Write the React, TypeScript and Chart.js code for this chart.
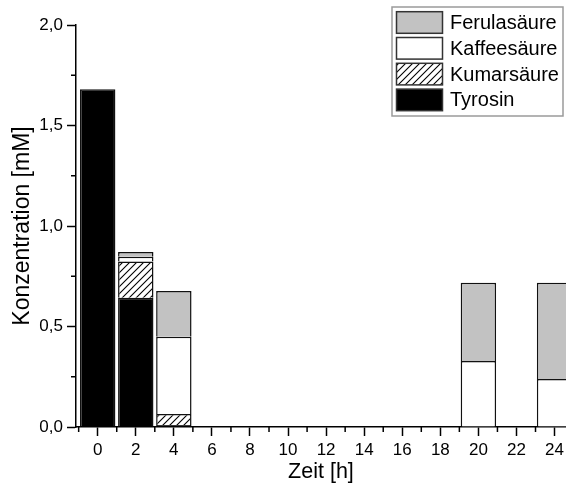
import { useEffect, useRef } from 'react';
import { Chart, registerables } from 'chart.js';

Chart.register(...registerables);

const hours = [0, 2, 4, 20, 24];
const tyrosin = [1.68, 0.643, 0.01, null, null];
const kumarsaeure = [null, 0.181, 0.055, null, null];
const kaffeesaeure = [null, 0.023, 0.384, 0.328, 0.239];
const ferulasaeure = [null, 0.024, 0.228, 0.39, 0.479];
const seriesNames = ['Tyrosin', 'Kumarsäure', 'Kaffeesäure', 'Ferulasäure'];
const xTickValues = [0, 2, 4, 6, 8, 10, 12, 14, 16, 18, 20, 22, 24];
const yTickValues = [0, 0.5, 1, 1.5, 2];
const xMinorTicks = [-1, 1, 3, 5, 7, 9, 11, 13, 15, 17, 19, 21, 23, 25];
const yMinorTicks = [0.25, 0.75, 1.25, 1.75];
const xTitle = 'Zeit [h]';
const yTitle = 'Konzentration [mM]';

const FONT = "Arial, 'Liberation Sans', Helvetica, sans-serif";

function makeHatch(): CanvasPattern | string {
  const s = 7;
  const c = document.createElement('canvas');
  c.width = s;
  c.height = s;
  const g = c.getContext('2d');
  if (!g) return '#fff';
  g.fillStyle = '#fff';
  g.fillRect(0, 0, s, s);
  g.strokeStyle = '#000';
  g.lineWidth = 1.1;
  g.beginPath();
  g.moveTo(0, s);
  g.lineTo(s, 0);
  g.moveTo(-2, 2);
  g.lineTo(2, -2);
  g.moveTo(s - 2, s + 2);
  g.lineTo(s + 2, s - 2);
  g.stroke();
  return g.createPattern(c, 'repeat') || '#fff';
}

function toPoints(vals: (number | null)[]) {
  return hours.map((h, i) => ({ x: h, y: vals[i] }));
}

const decorPlugin = {
  id: 'decor',
  afterDraw(chart: any) {
    const ctx: CanvasRenderingContext2D = chart.ctx;
    const xs = chart.scales.x;
    const ys = chart.scales.y;
    const area = chart.chartArea;
    ctx.save();
    ctx.strokeStyle = '#000';
    ctx.lineWidth = 1.5;
    ctx.beginPath();
    xMinorTicks.forEach((v) => {
      const p = xs.getPixelForValue(v);
      if (p >= area.left && p <= area.right) {
        ctx.moveTo(p, area.bottom);
        ctx.lineTo(p, area.bottom + 5);
      }
    });
    yMinorTicks.forEach((v) => {
      const p = ys.getPixelForValue(v);
      ctx.moveTo(area.left, p);
      ctx.lineTo(area.left - 5, p);
    });
    ctx.stroke();

    // legend
    const bx = 392, by = 7, bw = 171, bh = 109;
    ctx.fillStyle = '#fff';
    ctx.fillRect(bx, by, bw, bh);
    ctx.strokeStyle = '#9a9a9a';
    ctx.lineWidth = 1.5;
    ctx.strokeRect(bx, by, bw, bh);
    const items = [...chart.data.datasets].reverse();
    ctx.font = `20px ${FONT}`;
    ctx.textBaseline = 'middle';
    ctx.textAlign = 'left';
    items.forEach((ds: any, i: number) => {
      const sy = by + 4.7 + i * 25.8;
      const sx = bx + 4.5;
      const sw = 46, sh = 21.6;
      ctx.fillStyle = ds.backgroundColor;
      ctx.fillRect(sx, sy, sw, sh);
      ctx.strokeStyle = '#333';
      ctx.lineWidth = 1.5;
      ctx.strokeRect(sx, sy, sw, sh);
      ctx.fillStyle = '#000';
      ctx.fillText(ds.label, sx + sw + 7.5, sy + sh / 2 + 1);
    });
    ctx.restore();
  },
};

export default function App() {
  const ref = useRef<HTMLCanvasElement>(null);
  useEffect(() => {
    if (!ref.current) return;
    const hatch = makeHatch();
    const common = {
      borderColor: '#111',
      borderWidth: 1.5,
      borderSkipped: 'start',
      barPercentage: 0.93,
      categoryPercentage: 1,
    };
    const chart = new Chart(ref.current, {
      type: 'bar',
      data: {
        datasets: [
          { label: seriesNames[0], data: toPoints(tyrosin), backgroundColor: '#000', ...common },
          { label: seriesNames[1], data: toPoints(kumarsaeure), backgroundColor: hatch as any, ...common },
          { label: seriesNames[2], data: toPoints(kaffeesaeure), backgroundColor: '#fff', ...common },
          { label: seriesNames[3], data: toPoints(ferulasaeure), backgroundColor: '#c2c2c2', ...common },
        ] as any,
      },
      options: {
        animation: false,
        responsive: true,
        maintainAspectRatio: false,
        layout: { padding: { top: 25, right: 0, left: 0, bottom: 0 } },
        plugins: { legend: { display: false }, tooltip: { enabled: false } },
        scales: {
          x: {
            type: 'linear',
            stacked: true,
            offset: false,
            min: -1.14,
            max: 24.6,
            afterBuildTicks: (scale: any) => {
              scale.ticks = xTickValues.map((v) => ({ value: v }));
            },
            afterFit: (scale: any) => {
              scale.height = 66;
            },
            grid: {
              display: true,
              drawOnChartArea: false,
              drawTicks: true,
              tickLength: 9,
              tickWidth: 1.5,
              tickColor: '#000',
              offset: false,
            },
            border: { display: true, color: '#000', width: 1.5 },
            ticks: {
              autoSkip: false,
              maxRotation: 0,
              padding: 4,
              color: '#000',
              font: { family: FONT, size: 17 },
              callback: (v: any) => String(v),
            },
            title: {
              display: true,
              text: xTitle,
              color: '#000',
              font: { family: FONT, size: 21.5 },
              padding: { top: 0, bottom: 8 },
            },
          },
          y: {
            type: 'linear',
            stacked: true,
            min: 0,
            max: 2,
            afterBuildTicks: (scale: any) => {
              scale.ticks = yTickValues.map((v) => ({ value: v }));
            },
            afterFit: (scale: any) => {
              scale.width = 76;
            },
            grid: {
              display: true,
              drawOnChartArea: false,
              drawTicks: true,
              tickLength: 9,
              tickWidth: 1.5,
              tickColor: '#000',
            },
            border: { display: true, color: '#000', width: 1.5 },
            ticks: {
              padding: 4,
              color: '#000',
              font: { family: FONT, size: 17 },
              callback: (v: any) => Number(v).toFixed(1).replace('.', ','),
            },
            title: {
              display: true,
              text: yTitle,
              color: '#000',
              font: { family: FONT, size: 23 },
              padding: { top: 9, bottom: 0 },
            },
          },
        },
      } as any,
      plugins: [decorPlugin],
    });
    return () => chart.destroy();
  }, []);
  return (
    <div style={{ position: 'absolute', left: 0, top: 0, width: 568, height: 493, background: '#fff' }}>
      <canvas ref={ref} />
    </div>
  );
}
